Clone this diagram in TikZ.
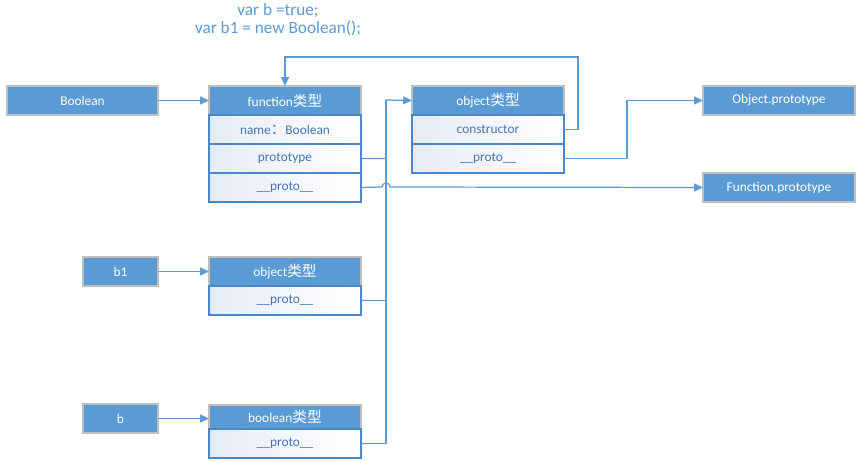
\documentclass[tikz,border=0pt]{standalone}
\usepackage{fontspec}
\setmainfont{Carlito}
\newfontfamily\cjk[Scale=1.1]{Noto Sans CJK SC}
\usetikzlibrary{positioning,arrows.meta}
\definecolor{boxblue}{HTML}{5B9BD5}
\definecolor{rowline}{HTML}{4A86C8}
\definecolor{rowtext}{HTML}{4576B5}
\definecolor{hdrline}{HTML}{BFBFBF}
\definecolor{rowfill}{HTML}{E6ECF6}
\tikzset{
  hdr/.style={draw=hdrline, fill=boxblue, text=white, line width=0.6pt,
    minimum width=3.04cm, minimum height=0.58cm, inner sep=0pt, outer sep=0pt,
    font=\fontsize{7.6}{9}\selectfont},
  row/.style={draw=rowline, left color=rowfill, right color=white, text=rowtext,
    line width=0.6pt, minimum width=3.04cm, minimum height=0.58cm,
    inner sep=0pt, outer sep=0pt, font=\fontsize{7.6}{9}\selectfont},
  conn/.style={draw=boxblue, line width=0.7pt},
  arr/.style={conn, -{Triangle[width=4.5pt,length=5pt]}}
}
\begin{document}
\begin{tikzpicture}[x=0.02cm, y=-0.02cm]
    \useasboundingbox (0,0) rectangle (864,462);

    % Code text
    \node[text=boxblue, font=\fontsize{9.8}{10}\selectfont, align=center] (code) at (278,20)
        {var b =true;\\var b1 = new Boolean();};

    % Left side variables
    \node[hdr, minimum width=3.02cm, anchor=north west] (bool) at (7,86) {Boolean};
    \node[hdr, minimum width=1.5cm, anchor=north west] (bone) at (83,257) {b1};
    \node[hdr, minimum width=1.5cm, anchor=north west] (bvar) at (83,404) {b};

    % Function object
    \node[hdr, anchor=north west] (fhdr) at (209,86) {function{\cjk 类型}};
    \node[row, below=0pt of fhdr] (fname) {name{\cjk ：}Boolean};
    \node[row, below=0pt of fname] (fproto) {prototype};
    \node[row, below=0pt of fproto] (fuproto) {\_\_proto\_\_};

    % Prototype object
    \node[hdr, anchor=north west] (ohdr) at (412,86) {object{\cjk 类型}};
    \node[row, below=0pt of ohdr] (ctor) {constructor};
    \node[row, below=0pt of ctor] (oproto) {\_\_proto\_\_};

    % Instances
    \node[hdr, anchor=north west] (b1hdr) at (209,257) {object{\cjk 类型}};
    \node[row, below=0pt of b1hdr] (b1proto) {\_\_proto\_\_};
    \node[hdr, anchor=north west, minimum height=0.48cm] (bhdr) at (209,405) {boolean{\cjk 类型}};
    \node[row, below=0pt of bhdr] (bproto) {\_\_proto\_\_};

    % Built-in prototypes
    \node[hdr, anchor=north west] (objp) at (703,86) {Object.prototype};
    \node[hdr, anchor=north west] (funp) at (703,173) {Function.prototype};

    % Connectors
    \coordinate (bus) at (386,100);
    \coordinate (loop) at (578,57);
    \draw[arr] (bool) -- (fhdr);
    \draw[arr] (bone) -- (b1hdr);
    \draw[arr] (bvar) -- (bvar -| bhdr.west);
    \draw[conn] (bproto.east) -| (bus);
    \draw[conn] (b1proto.east) -| (bus);
    \draw[arr] (fproto.east) -| (bus) -- (ohdr.west);
    \draw[arr] (fuproto.east) -- (382,187) arc[start angle=180, end angle=0, radius=0.08cm] -- (funp.west);
    \draw[arr] (ctor.east) -| (loop) -| (fhdr.north);
    \draw[arr] (oproto.east) -- ++(63,0) |- (objp.west);
\end{tikzpicture}
\end{document}
